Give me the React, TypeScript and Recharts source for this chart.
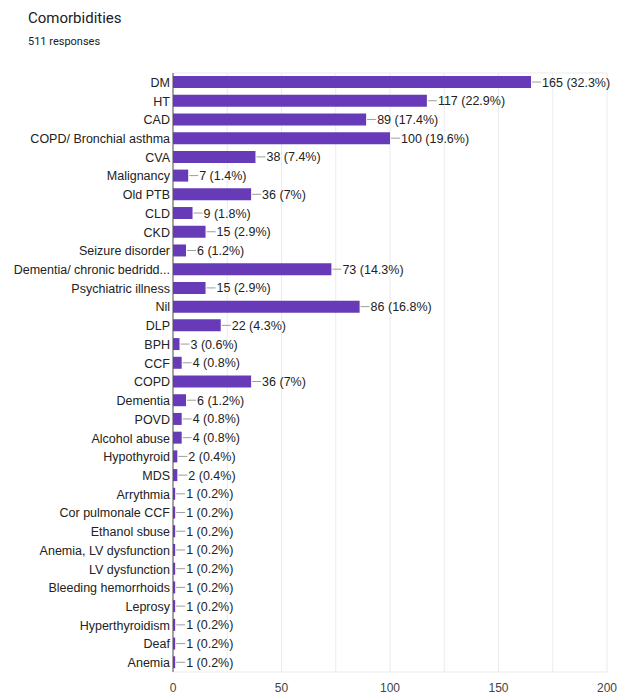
import React from 'react';
import { BarChart, Bar, XAxis, YAxis, CartesianGrid, LabelList } from 'recharts';

const categories = [
  'DM',
  'HT',
  'CAD',
  'COPD/ Bronchial asthma',
  'CVA',
  'Malignancy',
  'Old PTB',
  'CLD',
  'CKD',
  'Seizure disorder',
  'Dementia/ chronic bedridd...',
  'Psychiatric illness',
  'Nil',
  'DLP',
  'BPH',
  'CCF',
  'COPD',
  'Dementia',
  'POVD',
  'Alcohol abuse',
  'Hypothyroid',
  'MDS',
  'Arrythmia',
  'Cor pulmonale CCF',
  'Ethanol sbuse',
  'Anemia, LV dysfunction',
  'LV dysfunction',
  'Bleeding hemorrhoids',
  'Leprosy',
  'Hyperthyroidism',
  'Deaf',
  'Anemia',
];

const counts = [165, 117, 89, 100, 38, 7, 36, 9, 15, 6, 73, 15, 86, 22, 3, 4, 36, 6, 4, 4, 2, 2, 1, 1, 1, 1, 1, 1, 1, 1, 1, 1];

const percents = [
  '32.3', '22.9', '17.4', '19.6', '7.4', '1.4', '7', '1.8', '2.9', '1.2', '14.3', '2.9', '16.8', '4.3', '0.6', '0.8',
  '7', '1.2', '0.8', '0.8', '0.4', '0.4', '0.2', '0.2', '0.2', '0.2', '0.2', '0.2', '0.2', '0.2', '0.2', '0.2',
];

const xTicks = [0, 25, 50, 75, 100, 125, 150, 175, 200];

const data = categories.map((name, i) => ({ name, count: counts[i] }));

const FONT = 'Arial, "Liberation Sans", sans-serif';

const ValueLabel = (props: any) => {
  const { x, y, width, height, index } = props;
  const endX = Number(x) + Number(width);
  const midY = Number(y) + Number(height) / 2;
  return (
    <g>
      <line x1={endX + 1} y1={midY} x2={endX + 10} y2={midY} stroke="#9e9e9e" strokeWidth={1} />
      <text x={endX + 11} y={midY} dy="0.36em" fontSize={12.5} fill="#222" fontFamily={FONT}>
        {`${counts[index]} (${percents[index]}%)`}
      </text>
    </g>
  );
};

const CategoryTick = (props: any) => {
  const { x, y, payload } = props;
  return (
    <text x={x} y={y} dy="0.36em" textAnchor="end" fontSize={12.5} fill="#222" fontFamily={FONT}>
      {payload.value}
    </text>
  );
};

const ValueTick = (props: any) => {
  const { x, y, payload } = props;
  if (payload.value % 50 !== 0) return null;
  return (
    <text x={x} y={y} dy={8} textAnchor="middle" fontSize={12} fill="#444" fontFamily={FONT}>
      {payload.value}
    </text>
  );
};

export default function App() {
  return (
    <div style={{ position: 'absolute', left: 0, top: 0, width: 617, height: 696, background: '#fff' }}>
      <div
        style={{
          position: 'absolute',
          left: 28,
          top: 9,
          fontFamily: 'Roboto, sans-serif',
          fontSize: 15,
          color: '#202124',
        }}
      >
        Comorbidities
      </div>
      <div
        style={{
          position: 'absolute',
          left: 28,
          top: 35,
          fontFamily: 'Roboto, sans-serif',
          fontSize: 11,
          color: '#202124',
        }}
      >
        511 responses
      </div>
      <BarChart
        width={617}
        height={696}
        data={data}
        layout="vertical"
        margin={{ top: 73, right: 10, bottom: 0, left: 0 }}
        barSize={12}
      >
        <CartesianGrid
          stroke="#ebebeb"
          horizontalCoordinatesGenerator={({ offset }: any) => [offset.top, offset.top + offset.height]}
        />
        <XAxis
          type="number"
          domain={[0, 200]}
          ticks={xTicks}
          axisLine={false}
          tickLine={false}
          tickSize={6}
          tickMargin={6}
          height={24}
          tick={<ValueTick />}
          interval={0}
        />
        <YAxis
          type="category"
          dataKey="name"
          width={173}
          axisLine={{ stroke: '#555' }}
          tickLine={false}
          tickSize={0}
          tickMargin={3}
          interval={0}
          tick={<CategoryTick />}
        />
        <Bar dataKey="count" fill="#673ab7" isAnimationActive={false}>
          <LabelList dataKey="count" content={<ValueLabel />} />
        </Bar>
      </BarChart>
    </div>
  );
}
